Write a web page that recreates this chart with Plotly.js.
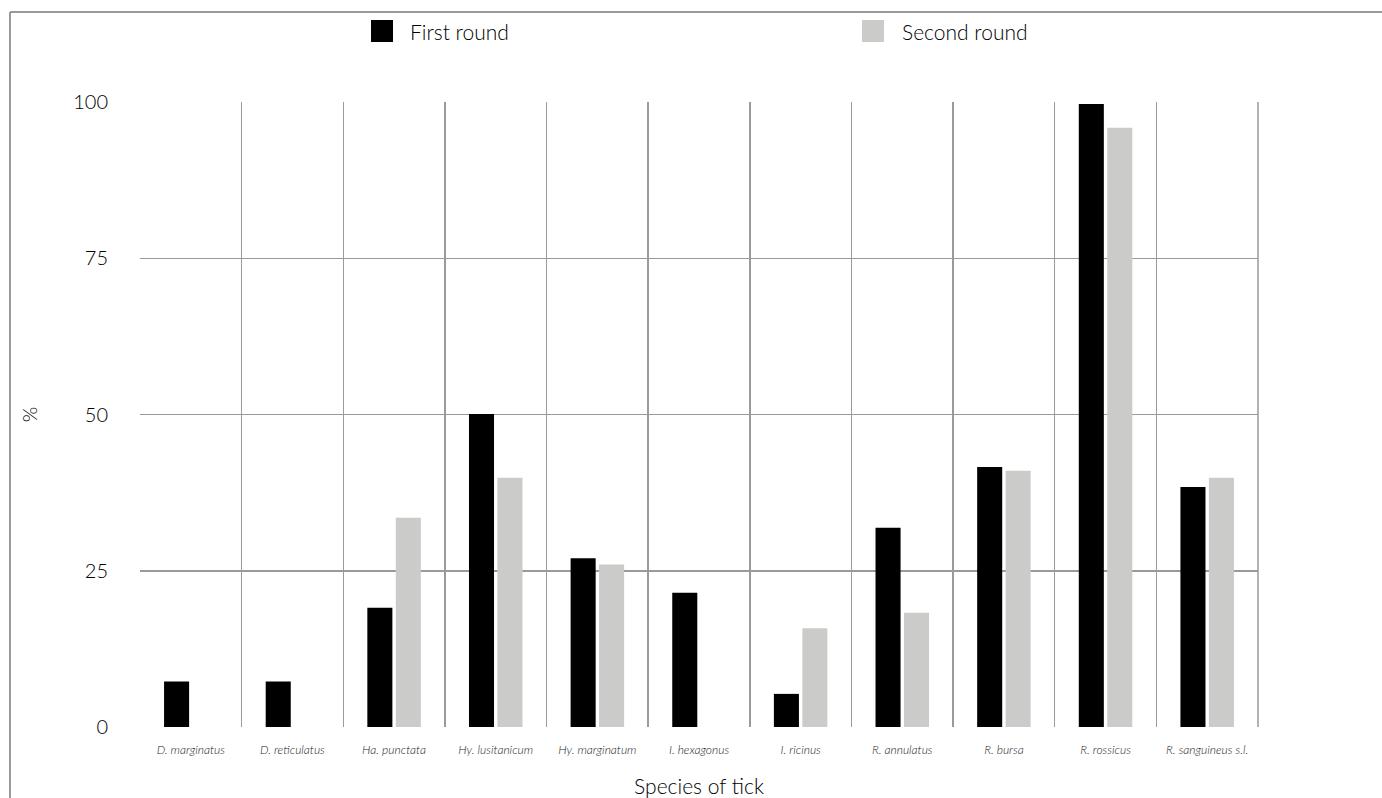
<!DOCTYPE html>
<html><head><meta charset="utf-8">
<script src="https://cdn.plot.ly/plotly-3.0.1.min.js"></script>
<style>html,body{margin:0;padding:0;background:#fff;}#chart{width:1382px;height:798px;}</style>
</head><body><div id="chart"></div>
<script>
var species = ["D. marginatus","D. reticulatus","Ha. punctata","Hy. lusitanicum","Hy. marginatum","I. hexagonus","I. ricinus","R. annulatus","R. bursa","R. rossicus","R. sanguineus s.l."];
var firstRound = [7.3, 7.3, 19.1, 50.1, 27.0, 21.5, 5.3, 31.9, 41.6, 99.7, 38.4];
var secondRound = [0, 0, 33.5, 39.9, 26.0, 0, 15.8, 18.3, 41.0, 95.9, 39.9];
var seriesNames = ["First round", "Second round"];
var yTicks = [0, 25, 50, 75, 100];

var colors = ["#000000", "#cbcbc9"];
var L = 140, R = 1258, T = 102, B = 727, W = 1382, H = 798;
function px(x){ return (x - L) / (R - L); }
function py(y){ return (B - y) / (B - T); }
var FONT = "Lato, 'Open Sans', sans-serif";

var traces = [
  {type:"bar", x:species, y:firstRound, name:seriesNames[0], marker:{color:colors[0]}, showlegend:false, hoverinfo:"x+y"},
  {type:"bar", x:species, y:secondRound, name:seriesNames[1], marker:{color:colors[1]}, showlegend:false, hoverinfo:"x+y"}
];

var layout = {
  width:W, height:H,
  margin:{l:L, r:W-R, t:T, b:H-B, pad:0},
  paper_bgcolor:"#fff", plot_bgcolor:"#fff",
  font:{family:FONT, color:"#000", weight:300},
  barmode:"group", bargap:0.44, bargroupgap:0.12,
  showlegend:false,
  xaxis:{
    type:"category", tickson:"boundaries", showgrid:true, gridcolor:"#9a9a9a", gridwidth:1.5,
    ticks:"", ticklabelstandoff:14,
    tickfont:{size:12, style:"italic", color:"#1a1a1a", weight:300},
    showline:false, zeroline:false, range:[-0.5, 10.5],
    title:{text:"Species of tick", font:{size:21, color:"#000", weight:300}, standoff:24}
  },
  yaxis:{
    range:[0,100], tickvals:yTicks, showgrid:true, gridcolor:"#9a9a9a", gridwidth:1.5,
    zeroline:false, showline:false,
    ticks:"outside", ticklen:27, tickcolor:"rgba(0,0,0,0)",
    tickfont:{size:20, color:"#000", weight:300},
    title:{text:"%", font:{size:20, color:"#000", weight:300}, standoff:30}
  },
  shapes:[
    {type:"line", xref:"paper", yref:"paper", x0:1, x1:1, y0:0, y1:1, line:{color:"#9a9a9a", width:1.5}},
    {type:"line", xref:"paper", yref:"paper", x0:px(10), x1:px(1400), y0:py(12), y1:py(12), line:{color:"#999", width:2}},
    {type:"line", xref:"paper", yref:"paper", x0:px(10), x1:px(10), y0:py(12), y1:py(820), line:{color:"#999", width:2}},
    {type:"rect", xref:"paper", yref:"paper", x0:px(371), x1:px(393), y0:py(20), y1:py(42), fillcolor:colors[0], line:{width:0}},
    {type:"rect", xref:"paper", yref:"paper", x0:px(862), x1:px(884), y0:py(20), y1:py(42), fillcolor:colors[1], line:{width:0}}
  ],
  annotations:[
    {xref:"paper", yref:"paper", x:px(408), y:py(31), xanchor:"left", yanchor:"middle", text:seriesNames[0], showarrow:false, font:{size:21, color:"#000", weight:300}},
    {xref:"paper", yref:"paper", x:px(900), y:py(31), xanchor:"left", yanchor:"middle", text:seriesNames[1], showarrow:false, font:{size:21, color:"#000", weight:300}}
  ]
};
Plotly.newPlot("chart", traces, layout, {displayModeBar:false, staticPlot:true});
</script></body></html>
